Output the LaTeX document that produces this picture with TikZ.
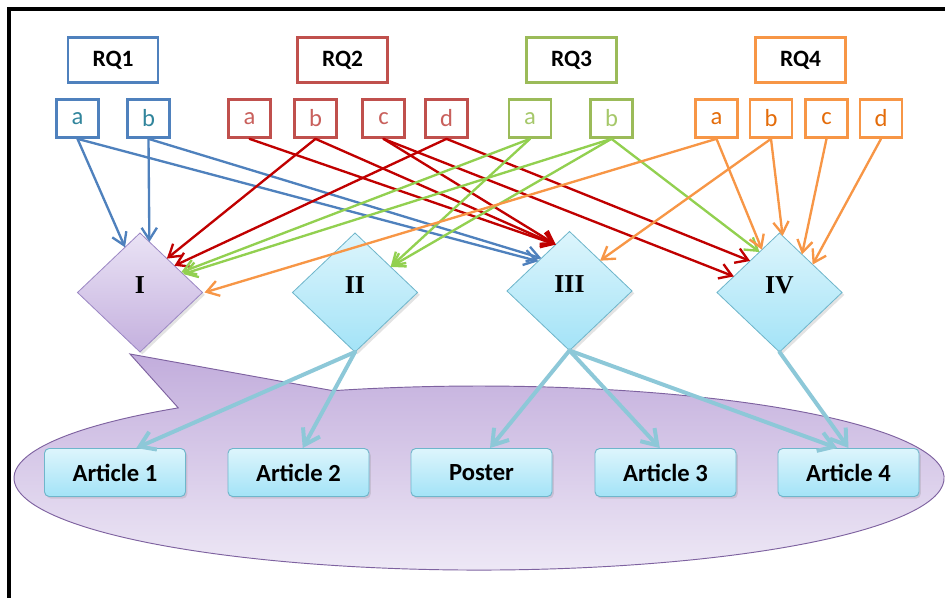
\documentclass[tikz,border=0pt]{standalone}
\usepackage{fontspec}
\setmainfont{Carlito}
\newfontfamily\numfont{Liberation Serif}
\usetikzlibrary{arrows.meta,shapes.geometric,calc,shadows}

\newlength\pxu
\setlength\pxu{0.03cm}

% palette
\definecolor{rqblue}{HTML}{4F81BD}
\definecolor{rqbluetxt}{HTML}{31859C}
\definecolor{rqred}{HTML}{C0504D}
\definecolor{rqredtxt}{HTML}{C9605C}
\definecolor{rqgreen}{HTML}{9BBB59}
\definecolor{rqgreentxt}{HTML}{A6C86A}
\definecolor{rqorange}{HTML}{F79646}
\definecolor{rqorangetxt}{HTML}{E46C0A}
\definecolor{arrblue}{HTML}{4F81BD}
\definecolor{arrred}{HTML}{C00000}
\definecolor{arrgreen}{HTML}{92D050}
\definecolor{arrorange}{HTML}{F79646}
\definecolor{arrcyan}{HTML}{8DC8D8}
\definecolor{cyantop}{HTML}{DDF5FC}
\definecolor{cyanbot}{HTML}{A3E3F7}
\definecolor{cyanedge}{HTML}{6FB6CB}
\definecolor{lilactop}{HTML}{EAE3F5}
\definecolor{lilacbot}{HTML}{C4B0DE}
\definecolor{lilacedge}{HTML}{9C88C4}
\definecolor{cloudtop}{HTML}{C2ADDC}
\definecolor{cloudbot}{HTML}{F0EBF7}
\definecolor{cloudedge}{HTML}{7E62A0}

\tikzset{
  rqbox/.style={draw=#1, line width=2.3pt, fill=white, inner sep=0pt,
    minimum width=90\pxu, minimum height=45\pxu,
    font=\fontsize{20}{24}\bfseries\selectfont},
  subbox/.style 2 args={draw=#1, text=#2, line width=2.3pt, fill=white,
    inner sep=0pt, minimum width=42\pxu, minimum height=38\pxu,
    font=\fontsize{21}{24}\selectfont},
  dia/.style 2 args={diamond, draw=#2, line width=0.7pt, inner sep=0pt,
    outer sep=0pt, minimum width=125\pxu, minimum height=119\pxu,
    top color=#1top, bottom color=#1bot,
    drop shadow={opacity=0.22, shadow xshift=2pt, shadow yshift=-2pt}},
  numlab/.style={font={\numfont\bfseries\fontsize{22}{24}\selectfont},
    yshift=7\pxu, inner sep=0pt},
  artbox/.style={draw=cyanedge, line width=0.8pt, rounded corners=4pt,
    top color=cyantop, bottom color=cyanbot, inner sep=0pt,
    minimum width=141\pxu, minimum height=48\pxu,
    font=\fontsize{21}{24}\bfseries\selectfont,
    drop shadow={opacity=0.22, shadow xshift=1.5pt, shadow yshift=-1.8pt}},
  link/.style={draw=#1, line width=2pt, line cap=round,
    -{Straight Barb[length=3.6mm, width=4.6mm, line width=2pt]}},
  feed/.style={draw=arrcyan, line width=3.4pt, line cap=round,
    -{Straight Barb[length=4.4mm, width=5.8mm, line width=3.4pt]}},
}

\begin{document}
\begin{tikzpicture}[x=0.03cm, y=-0.03cm]
\useasboundingbox (0,0) rectangle (945,598);

% outer frame (left and top edges)
\draw[line width=2.6pt] (9,600) -- (9,9) -- (947,9);

% callout cloud: ellipse with a pointer towards diamond I
\path[draw=cloudedge, line width=0.8pt, top color=cloudtop, bottom color=cloudbot]
  (178.2,407.8) -- (130,354) -- (333.0,390.7)
  arc[start angle=251.7, end angle=589.7, x radius=465, y radius=92] -- cycle;

% research questions
\node[rqbox=rqblue]   (rq1) at (113,60)   {RQ1};
\node[rqbox=rqred]    (rq2) at (342.5,60) {RQ2};
\node[rqbox=rqgreen]  (rq3) at (571.5,60) {RQ3};
\node[rqbox=rqorange] (rq4) at (800.5,60) {RQ4};

% sub-questions
\node[subbox={rqblue}{rqbluetxt}] (r1a) at (77.5,118.5)  {a};
\node[subbox={rqblue}{rqbluetxt}] (r1b) at (148.5,118.5) {b};
\node[subbox={rqred}{rqredtxt}] (r2a) at (249.5,118.5) {a};
\node[subbox={rqred}{rqredtxt}] (r2b) at (315.5,118.5) {b};
\node[subbox={rqred}{rqredtxt}] (r2c) at (383.5,118.5) {c};
\node[subbox={rqred}{rqredtxt}] (r2d) at (446.5,118.5) {d};
\node[subbox={rqgreen}{rqgreentxt}] (r3a) at (530,118.5)   {a};
\node[subbox={rqgreen}{rqgreentxt}] (r3b) at (611.5,118.5) {b};
\node[subbox={rqorange}{rqorangetxt}] (r4a) at (716.5,118.5) {a};
\node[subbox={rqorange}{rqorangetxt}] (r4b) at (771,118.5)   {b};
\node[subbox={rqorange}{rqorangetxt}] (r4c) at (826.5,118.5) {c};
\node[subbox={rqorange}{rqorangetxt}] (r4d) at (881,118.5)   {d};

% outputs
\node[artbox] (art1)   at (115,472.5)   {Article 1};
\node[artbox] (art2)   at (298.5,472.5) {Article 2};
\node[artbox] (poster) at (481.5,472.5) {Poster};
\node[artbox] (art3)   at (665.5,472.5) {Article 3};
\node[artbox] (art4)   at (848.5,472.5) {Article 4};

% studies
\node[dia={lilac}{lilacedge}, label={[numlab]center:I}]  (I)   at (140,292.5) {};
\node[dia={cyan}{cyanedge},  label={[numlab]center:II}]  (II)  at (355,292.5) {};
\node[dia={cyan}{cyanedge},  label={[numlab]center:III}] (III) at (569.5,291) {};
\node[dia={cyan}{cyanedge},  label={[numlab]center:IV}]  (IV)  at (779.5,292.5) {};

% studies to outputs
\draw[feed] (II.south)  -- ($(art1.north west)!0.65!(art1.north east)$);
\draw[feed] (II.south)  -- ($(art2.north west)!0.53!(art2.north east)$);
\draw[feed] (III.south) -- ($(poster.north west)!0.56!(poster.north east)$);
\draw[feed] (III.south) -- ($(art3.north west)!0.46!(art3.north east)$);
\draw[feed] (III.south) -- ($(art4.north west)!0.42!(art4.north east)$);
\draw[feed] (IV.south)  -- ($(art4.north west)!0.50!(art4.north east)$);

% RQ1
\draw[link=arrblue] (r1a.south) -- ($(I.north)!0.24!(I.west)$);
\draw[link=arrblue] (r1a.south) -- ($(III.north)!0.50!(III.west)$);
\draw[link=arrblue] (r1b.south) -- ($(I.north)!0.15!(I.east)$);
\draw[link=arrblue] (r1b.south) -- ($(III.north)!0.45!(III.west)$);

% RQ2
\draw[link=arrred] (r2a.south) -- ($(III.north)!0.22!(III.west)$);
\draw[link=arrred] (r2b.south) -- ($(I.north)!0.43!(I.east)$);
\draw[link=arrred] (r2b.south) -- ($(III.north)!0.22!(III.west)$);
\draw[link=arrred] (r2c.south) -- ($(III.north)!0.22!(III.west)$);
\draw[link=arrred] (r2c.south) -- ($(IV.north)!0.73!(IV.west)$);
\draw[link=arrred] (r2d.south) -- ($(I.north)!0.55!(I.east)$);
\draw[link=arrred] (r2d.south) -- ($(IV.north)!0.47!(IV.west)$);

% RQ3
\draw[link=arrgreen] (r3a.south) -- ($(I.north)!0.66!(I.east)$);
\draw[link=arrgreen] (r3a.south) -- ($(II.north)!0.57!(II.east)$);
\draw[link=arrgreen] (r3b.south) -- ($(I.north)!0.69!(I.east)$);
\draw[link=arrgreen] (r3b.south) -- ($(II.north)!0.57!(II.east)$);
\draw[link=arrgreen] (r3b.south) -- ($(IV.north)!0.32!(IV.west)$);

% RQ4
\draw[link=arrorange] (r4a.south) -- ($(I.east)+(2,0)$);
\draw[link=arrorange] (r4a.south) -- ($(IV.north)!0.28!(IV.west)$);
\draw[link=arrorange] (r4b.south) -- ($(III.north)!0.49!(III.east)$);
\draw[link=arrorange] (r4b.south) -- ($(IV.north)!0.05!(IV.east)$);
\draw[link=arrorange] (r4c.south) -- ($(IV.north)!0.36!(IV.east)$);
\draw[link=arrorange] (r4d.south) -- ($(IV.north)!0.53!(IV.east)$);
\end{tikzpicture}
\end{document}
